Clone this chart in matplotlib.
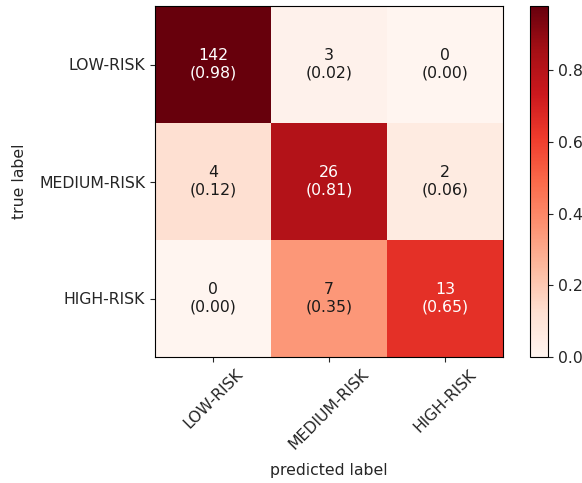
import numpy as np
import matplotlib
matplotlib.use("Agg")
import matplotlib.pyplot as plt

plt.rcParams["font.size"] = 11.3
plt.rcParams["text.color"] = "#262626"
plt.rcParams["axes.labelcolor"] = "#262626"
plt.rcParams["xtick.color"] = "#262626"
plt.rcParams["ytick.color"] = "#262626"

class_names = ["LOW-RISK", "MEDIUM-RISK", "HIGH-RISK"]
counts = np.array([[142, 3, 0],
                   [4, 26, 2],
                   [0, 7, 13]])
normed = np.array([[0.98, 0.02, 0.00],
                   [0.12, 0.81, 0.06],
                   [0.00, 0.35, 0.65]])

fig = plt.figure(figsize=(5.82, 4.83), dpi=100)
ax = fig.add_axes([155/582, 1-357/483, 348/582, 351/483])
cax = fig.add_axes([530/582, 1-357/483, 18/582, 351/483])

im = ax.imshow(normed, cmap="Reds", aspect="auto")
cb = fig.colorbar(im, cax=cax)
cb.set_ticks([0.0, 0.2, 0.4, 0.6, 0.8])

thr = normed.max() / 2
for i in range(counts.shape[0]):
    for j in range(counts.shape[1]):
        txt = f"{counts[i, j]}\n({normed[i, j]:.2f})"
        ax.text(j, i, txt, ha="center", va="center",
                color="white" if normed[i, j] > thr else "#1a1a1a")

ax.set_xticks(range(3))
ax.set_xticklabels(class_names, rotation=45, ha="center")
ax.set_yticks(range(3))
ax.set_yticklabels(class_names)
ax.set_xlabel("predicted label", labelpad=8)
ax.set_ylabel("true label", labelpad=9)

fig.savefig("out.png", dpi=100)
